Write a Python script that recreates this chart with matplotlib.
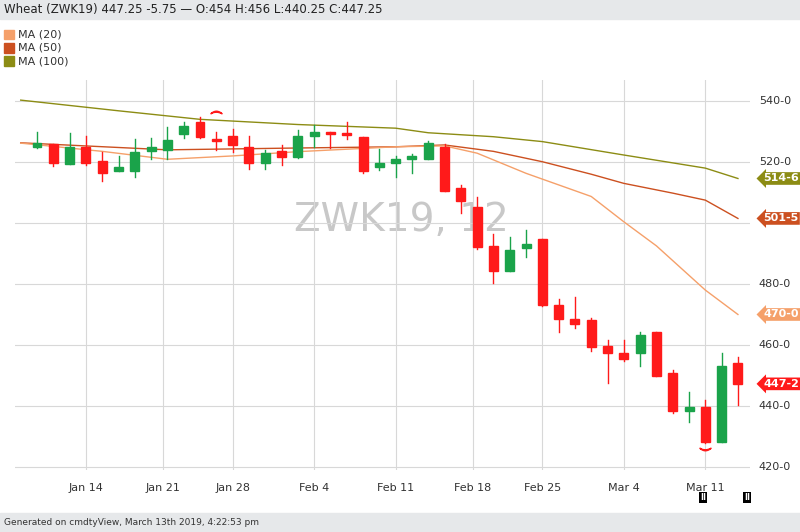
import matplotlib
matplotlib.use("Agg")
import matplotlib.pyplot as plt
from matplotlib.patches import Rectangle

# daily OHLC, Jan 9 .. Mar 13 2019 (trading days)
opens = [525.0, 525.9, 519.3, 525.0, 520.3, 516.9, 516.9, 523.7, 523.9, 529.2, 533.1, 527.4,
         528.5, 525.0, 519.6, 523.6, 521.7, 528.5, 529.6, 529.2, 528.3, 518.5, 519.6, 520.9,
         520.9, 525.0, 511.4, 505.3, 492.5, 484.4, 491.7, 494.8, 473.1, 468.5, 468.2, 459.7,
         457.3, 457.3, 464.4, 450.9, 438.2, 439.6, 428.3, 454.0]
highs = [529.8, 526.0, 529.4, 528.5, 523.4, 522.0, 527.6, 528.0, 531.6, 533.1, 534.9, 529.8,
         530.7, 528.5, 523.9, 525.6, 530.5, 532.1, 529.8, 533.1, 528.3, 524.2, 522.0, 522.5,
         527.0, 525.9, 512.5, 508.6, 496.4, 495.5, 497.7, 494.8, 475.1, 475.8, 468.8, 461.6,
         461.6, 464.1, 464.4, 451.8, 444.5, 442.0, 457.5, 456.0]
lows = [524.6, 518.7, 519.3, 519.0, 513.9, 516.9, 515.2, 520.9, 520.9, 527.8, 527.8, 523.9,
        523.4, 517.6, 517.8, 519.0, 521.2, 525.0, 524.5, 527.4, 516.5, 517.4, 515.0, 516.3,
        520.9, 510.6, 503.4, 491.4, 480.2, 484.4, 489.0, 472.9, 464.4, 465.7, 458.1, 447.4,
        454.7, 453.1, 449.9, 437.8, 434.6, 428.0, 428.3, 440.25]
closes = [526.2, 519.7, 525.0, 519.8, 516.3, 518.3, 523.3, 525.0, 527.2, 531.8, 528.3, 527.0,
          525.6, 519.6, 522.9, 521.7, 528.5, 529.8, 529.2, 528.9, 517.0, 519.6, 520.9, 521.9,
          526.3, 510.6, 507.2, 492.2, 484.4, 491.1, 493.0, 473.1, 468.4, 466.8, 459.4, 457.3,
          455.5, 463.3, 449.9, 438.5, 439.6, 428.3, 453.1, 447.25]

date_labels = ["Jan 14", "Jan 21", "Jan 28", "Feb 4", "Feb 11", "Feb 18", "Feb 25", "Mar 4", "Mar 11"]
date_pos = [3, 7.75, 12, 17, 22, 26.75, 31, 36, 41]

ma100_x = [-1, 5, 10, 16, 22, 24, 28, 31, 36, 41, 43]
ma100 = [540.3, 536.8, 534.0, 532.3, 531.1, 529.6, 528.3, 526.7, 522.3, 518.0, 514.6]
ma50_x = [-1, 8, 16, 22, 25, 28, 31, 34, 36, 39, 41, 43]
ma50 = [526.3, 524.0, 524.6, 525.0, 525.6, 523.5, 520.1, 516.0, 513.0, 509.8, 507.5, 501.5]
ma20_x = [-1, 4, 8, 12, 16, 22, 25, 27, 30, 32, 34, 36, 38, 41, 43]
ma20 = [526.2, 523.5, 520.9, 522.0, 523.4, 525.0, 525.3, 522.9, 516.3, 512.5, 508.7, 500.4,
        492.5, 478.0, 470.0]

UP, DOWN = "#1aa34a", "#ff1a1a"
C20, C50, C100 = "#f5a06a", "#cc5020", "#8c8c14"

fig = plt.figure(figsize=(8, 5.32), dpi=100)
fig.patch.set_facecolor("white")
fig.patches.append(Rectangle((0, 0.965), 1, 0.035, transform=fig.transFigure,
                             color="#e6e8ea", zorder=0))
fig.patches.append(Rectangle((0, 0), 1, 0.035, transform=fig.transFigure,
                             color="#e6e8ea", zorder=0))
fig.text(0.005, 0.982, "Wheat (ZWK19) 447.25 -5.75 \u2014 O:454 H:456 L:440.25 C:447.25",
         fontsize=8.5, va="center", color="#222")
fig.text(0.005, 0.017, "Generated on cmdtyView, March 13th 2019, 4:22:53 pm",
         fontsize=6.5, va="center", color="#333")

ax = fig.add_axes([15 / 800, 62 / 532, 735 / 800, 390 / 532])
ax.set_xlim(-1.35, 43.74)
ax.set_ylim(419.0, 546.9)
for s in ax.spines.values():
    s.set_visible(False)
ax.tick_params(left=False, right=False, bottom=False, labelleft=False)
ax.set_yticks([420, 440, 460, 480, 500, 520, 540])
ax.set_xticks(date_pos)
ax.set_xticklabels(date_labels, fontsize=8, color="#333")
ax.tick_params(axis="x", pad=6)
ax.grid(True, color="#d8d8d8", lw=0.8)
for v in [420, 440, 460, 480, 520, 540]:
    ax.text(1.012, (v - 419.0) / (546.9 - 419.0), f"{v}-0", transform=ax.transAxes,
            fontsize=8, va="center", color="#333")

ax.text(0.525, 0.64, "ZWK19, 12", transform=ax.transAxes, ha="center", va="center",
        fontsize=28, color="#c8c8c8", zorder=1)

ax.plot(ma100_x, ma100, color=C100, lw=1.0, zorder=2)
ax.plot(ma50_x, ma50, color=C50, lw=1.0, zorder=2)
ax.plot(ma20_x, ma20, color=C20, lw=1.0, zorder=2)

w = 0.55
for i, (o, h, l, c) in enumerate(zip(opens, highs, lows, closes)):
    col = UP if c >= o else DOWN
    ax.plot([i, i], [l, h], color=col, lw=1.0, zorder=3)
    lo, hi = min(o, c), max(o, c)
    ax.add_patch(Rectangle((i - w / 2, lo), w, max(hi - lo, 0.6), color=col, zorder=4))

# high/low markers
ax.plot(11, 536.5, marker="$\u2322$", color=DOWN, ms=8, zorder=5)
ax.plot(41, 425.8, marker="$\u2323$", color=DOWN, ms=8, zorder=5)

# right-side price tags
for val, txt, col in [(514.6, "514-6", C100), (501.5, "501-5", C50),
                      (470.0, "470-0", C20), (447.25, "447-2", DOWN)]:
    ax.text(1.018, (val - 419.0) / (546.9 - 419.0), txt, transform=ax.transAxes,
            fontsize=8, fontweight="bold", va="center", color="white",
            bbox=dict(boxstyle="larrow,pad=0.12", fc=col, ec="none"))

for y, lab, col in [(0.935, "MA (20)", C20), (0.91, "MA (50)", C50), (0.885, "MA (100)", C100)]:
    fig.patches.append(Rectangle((0.005, y - 0.009), 0.012, 0.018, transform=fig.transFigure,
                                 color=col))
    fig.text(0.022, y, lab, fontsize=8, va="center", color="#333")

for xp in [703, 747]:
    fig.text(xp / 800, 0.065, "II", fontsize=6, ha="center", va="center", color="white",
             fontweight="bold", bbox=dict(boxstyle="square,pad=0.15", fc="black", ec="none"))

fig.savefig("out.png", dpi=100)
